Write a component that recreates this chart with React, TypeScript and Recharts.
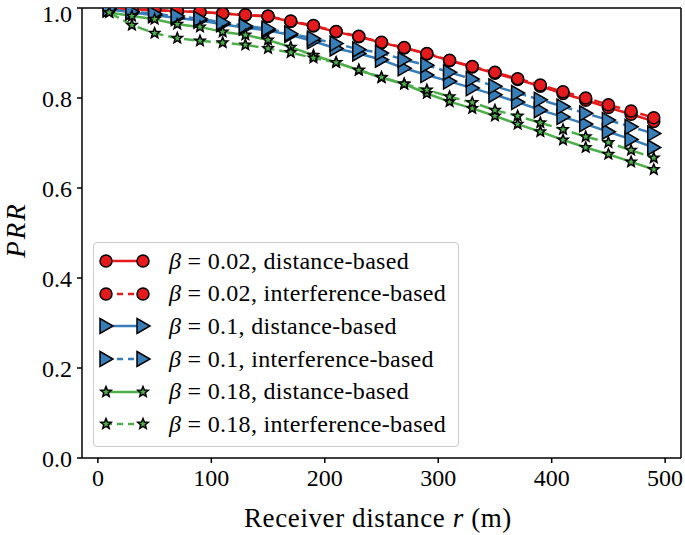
import { Legend, Line, LineChart, ReferenceLine, XAxis, YAxis } from "recharts";

const distances = [10, 30, 50, 70, 90, 110, 130, 150, 170, 190, 210, 230, 250, 270, 290, 310, 330, 350, 370, 390, 410, 430, 450, 470, 490];

const redDistance = [0.999, 0.997, 0.995, 0.993, 0.991, 0.988, 0.984, 0.981, 0.97, 0.96, 0.947, 0.936, 0.923, 0.911, 0.898, 0.883, 0.869, 0.855, 0.841, 0.826, 0.81, 0.795, 0.779, 0.764, 0.748];
const redInterference = [0.999, 0.997, 0.995, 0.993, 0.991, 0.988, 0.985, 0.982, 0.971, 0.961, 0.948, 0.937, 0.924, 0.912, 0.899, 0.884, 0.87, 0.857, 0.843, 0.829, 0.814, 0.8, 0.785, 0.771, 0.756];
const blueDistance = [0.997, 0.99, 0.984, 0.978, 0.972, 0.964, 0.956, 0.95, 0.94, 0.926, 0.91, 0.899, 0.885, 0.866, 0.851, 0.837, 0.822, 0.807, 0.791, 0.773, 0.758, 0.742, 0.725, 0.708, 0.69];
const blueInterference = [0.998, 0.992, 0.987, 0.982, 0.976, 0.968, 0.96, 0.954, 0.943, 0.932, 0.921, 0.908, 0.9, 0.885, 0.873, 0.857, 0.842, 0.826, 0.811, 0.796, 0.781, 0.766, 0.751, 0.736, 0.721];
const greenDistance = [0.99, 0.982, 0.975, 0.964, 0.958, 0.947, 0.94, 0.929, 0.913, 0.895, 0.879, 0.862, 0.845, 0.831, 0.81, 0.792, 0.777, 0.76, 0.742, 0.725, 0.707, 0.69, 0.675, 0.658, 0.641];
const greenInterference = [0.99, 0.962, 0.944, 0.933, 0.927, 0.923, 0.918, 0.91, 0.901, 0.889, 0.879, 0.862, 0.846, 0.831, 0.818, 0.803, 0.79, 0.773, 0.76, 0.745, 0.73, 0.714, 0.701, 0.684, 0.667];

const xTicks = [0, 100, 200, 300, 400, 500];
const yTicks = [0, 0.2, 0.4, 0.6, 0.8, 1.0];

const data = distances.map((r, i) => ({
  r,
  rd: redDistance[i],
  ri: redInterference[i],
  bd: blueDistance[i],
  bi: blueInterference[i],
  gd: greenDistance[i],
  gi: greenInterference[i],
}));

const RED = "#e41a1c";
const BLUE = "#377eb8";
const GREEN = "#4daf4a";
const FONT = "'Liberation Serif', 'DejaVu Serif', serif";
const X_DOMAIN: [number, number] = [-14, 514];

type MarkerProps = { cx: number; cy: number };

const CircleMark = ({ cx, cy }: MarkerProps) => (
  <circle cx={cx} cy={cy} r={6} fill={RED} stroke="#000" strokeWidth={1.5} />
);

const TriangleMark = ({ cx, cy }: MarkerProps) => (
  <polygon
    points={`${cx - 6},${cy - 7.5} ${cx + 7},${cy} ${cx - 6},${cy + 7.5}`}
    fill={BLUE}
    stroke="#000"
    strokeWidth={1.5}
  />
);

const StarMark = ({ cx, cy }: MarkerProps) => {
  const pts: string[] = [];
  for (let k = 0; k < 10; k++) {
    const rad = k % 2 === 0 ? 5.5 : 2.4;
    const a = -Math.PI / 2 + (k * Math.PI) / 5;
    pts.push(`${cx + rad * Math.cos(a)},${cy + rad * Math.sin(a)}`);
  }
  return <polygon points={pts.join(" ")} fill={GREEN} stroke="#000" strokeWidth={1.5} />;
};

const series = [
  { key: "rd", beta: "0.02", kind: "distance-based", color: RED, dash: undefined, Mark: CircleMark },
  { key: "ri", beta: "0.02", kind: "interference-based", color: RED, dash: "11 5", Mark: CircleMark },
  { key: "bd", beta: "0.1", kind: "distance-based", color: BLUE, dash: undefined, Mark: TriangleMark },
  { key: "bi", beta: "0.1", kind: "interference-based", color: BLUE, dash: "11 5", Mark: TriangleMark },
  { key: "gd", beta: "0.18", kind: "distance-based", color: GREEN, dash: undefined, Mark: StarMark },
  { key: "gi", beta: "0.18", kind: "interference-based", color: GREEN, dash: "11 5", Mark: StarMark },
];

const LegendBox = () => (
  <div
    style={{
      border: "1px solid #cccccc",
      borderRadius: 4,
      background: "rgba(255,255,255,0.85)",
      padding: "2px 12px 5px 5px",
      fontFamily: FONT,
      fontSize: 24,
      letterSpacing: 0.3,
      color: "#000",
    }}
  >
    {series.map((s) => (
      <div key={s.key} style={{ display: "flex", alignItems: "center", height: 32.6 }}>
        <svg width={52} height={20} style={{ overflow: "visible" }}>
          <line x1={7} y1={10} x2={44} y2={10} stroke={s.color} strokeWidth={2.5} strokeDasharray={s.dash ? "6 5" : undefined} />
          <s.Mark cx={7} cy={10} />
          <s.Mark cx={44} cy={10} />
        </svg>
        <span style={{ marginLeft: 18, whiteSpace: "nowrap" }}>
          <i>β</i> = {s.beta}, {s.kind}
        </span>
      </div>
    ))}
  </div>
);

const App = () => {
  return (
    <div style={{ position: "absolute", left: 0, top: 0, background: "#fff" }}>
      <LineChart width={685} height={535} data={data} margin={{ top: 8, right: 4, bottom: 0, left: 0 }}>
        <XAxis
          dataKey="r"
          type="number"
          domain={X_DOMAIN}
          allowDataOverflow
          ticks={xTicks}
          height={77}
          tickSize={5}
          tickMargin={6}
          stroke="#000"
          strokeWidth={1.5}
          tick={{ fill: "#000", fontSize: 24, fontFamily: FONT }}
          label={{
            content: () => (
              <text x={378} y={527} textAnchor="middle" fontFamily={FONT} fontSize={27} letterSpacing={0.6} fill="#000">
                Receiver distance <tspan fontStyle="italic">r</tspan> (m)
              </text>
            ),
          }}
        />
        <YAxis
          type="number"
          domain={[0, 1]}
          allowDataOverflow
          ticks={yTicks}
          width={82}
          tickSize={5}
          tickMargin={5}
          stroke="#000"
          strokeWidth={1.5}
          tickFormatter={(v: number) => v.toFixed(1)}
          tick={{ fill: "#000", fontSize: 24, fontFamily: FONT }}
          label={{
            content: () => (
              <text
                x={25}
                y={230}
                textAnchor="middle"
                fontFamily={FONT}
                fontSize={27}
                letterSpacing={2}
                fontStyle="italic"
                fill="#000"
                transform="rotate(-90, 25, 230)"
              >
                PRR
              </text>
            ),
          }}
        />
        <ReferenceLine y={1} stroke="#000" strokeWidth={1.5} ifOverflow="visible" />
        <ReferenceLine x={X_DOMAIN[1]} stroke="#000" strokeWidth={1.5} ifOverflow="visible" />
        <Legend
          layout="vertical"
          align="center"
          verticalAlign="middle"
          wrapperStyle={{ left: 93, top: 242, width: "auto" }}
          content={() => <LegendBox />}
        />
        {series.map((s) => (
          <Line
            key={s.key}
            dataKey={s.key}
            type="linear"
            stroke={s.color}
            strokeWidth={2.5}
            strokeDasharray={s.dash}
            isAnimationActive={false}
            activeDot={false}
            dot={(p: any) => <s.Mark key={`${s.key}-${p.index}`} cx={p.cx} cy={p.cy} />}
          />
        ))}
      </LineChart>
    </div>
  );
};

export default App;
